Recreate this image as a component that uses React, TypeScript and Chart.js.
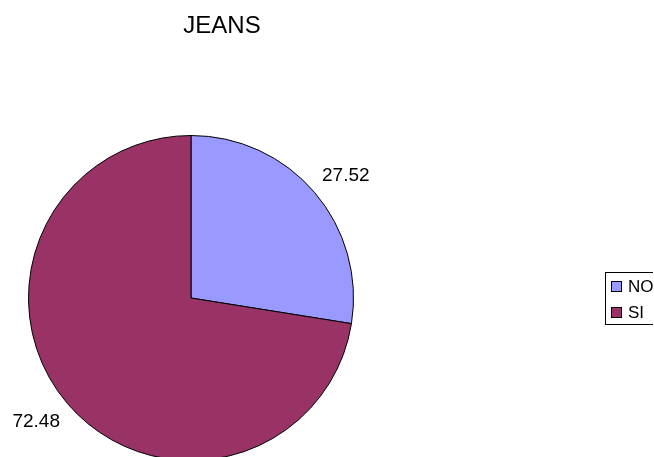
import React, { useEffect, useRef } from "react";
import { Chart, registerables } from "chart.js";

Chart.register(...registerables);

const titleText = "JEANS";
const categories = ["NO", "SI"];
const values = [27.52, 72.48];
const colors = ["#9999FF", "#993366"];

const FONT = "'Liberation Sans', Arial, sans-serif";

const overlayPlugin = {
  id: "overlay",
  afterDraw(chart: any) {
    const ctx = chart.ctx;
    ctx.save();
    // title
    ctx.fillStyle = "#000";
    ctx.font = `24px ${FONT}`;
    ctx.textAlign = "center";
    ctx.textBaseline = "middle";
    ctx.fillText(titleText, 222, 26);

    // value labels
    const meta = chart.getDatasetMeta(0);
    ctx.font = `19px ${FONT}`;
    meta.data.forEach((arc: any, i: number) => {
      const p = arc.getProps(["x", "y", "startAngle", "endAngle", "outerRadius"], true);
      const mid = (p.startAngle + p.endAngle) / 2;
      const x = p.x + Math.cos(mid) * (p.outerRadius + 41);
      const y = p.y + Math.sin(mid) * (p.outerRadius + 27);
      ctx.fillText(values[i].toFixed(2), x, y + 1);
    });

    // legend (clipped at the right edge, as in the reference)
    ctx.beginPath();
    ctx.rect(0, 0, 653, 470);
    ctx.clip();
    ctx.strokeStyle = "#000";
    ctx.lineWidth = 1;
    ctx.strokeRect(605.5, 272.5, 100, 52);
    ctx.font = `17px ${FONT}`;
    ctx.textAlign = "left";
    categories.forEach((c, i) => {
      const y = 281 + i * 26;
      ctx.fillStyle = colors[i];
      ctx.fillRect(611, y, 10, 10);
      ctx.strokeRect(611.5, y + 0.5, 10, 10);
      ctx.fillStyle = "#000";
      ctx.fillText(c, 628, y + 6);
    });
    ctx.restore();
  },
};

export default function App() {
  const ref = useRef<HTMLCanvasElement>(null);
  useEffect(() => {
    if (!ref.current) return;
    const chart = new Chart(ref.current, {
      type: "pie",
      data: {
        labels: categories,
        datasets: [
          {
            data: values,
            backgroundColor: colors,
            borderColor: "#000",
            borderWidth: 1,
          },
        ],
      },
      options: {
        responsive: false,
        animation: false,
        layout: { padding: { left: 28, right: 300, top: 135, bottom: 9 } },
        plugins: {
          legend: { display: false },
          title: { display: false },
          tooltip: { enabled: false },
        },
      },
      plugins: [overlayPlugin],
    });
    return () => chart.destroy();
  }, []);
  return (
    <div
      style={{
        position: "absolute",
        left: 0,
        top: 0,
        width: 654,
        height: 457,
        overflow: "hidden",
        background: "#fff",
      }}
    >
      <canvas ref={ref} width={654} height={470} style={{ display: "block" }} />
    </div>
  );
}
